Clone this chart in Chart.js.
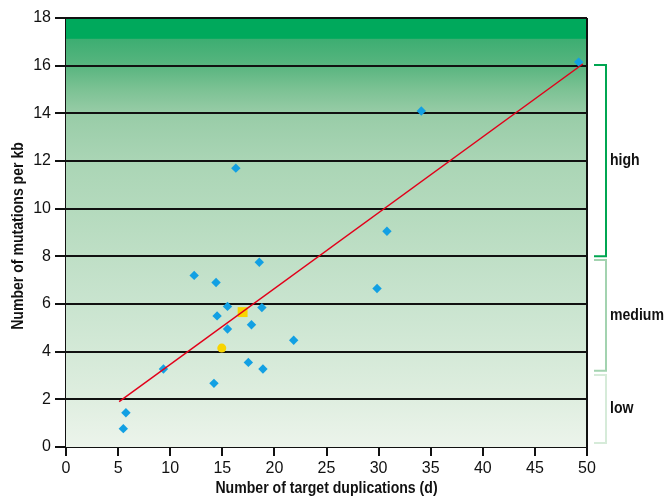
<!DOCTYPE html>
<html>
<head>
<meta charset="utf-8">
<script src="https://cdn.jsdelivr.net/npm/chart.js@4"></script>
<style>
  html, body { margin: 0; padding: 0; background: #fff; }
  #wrap { width: 666px; height: 497px; }
</style>
</head>
<body>
<div id="wrap"><canvas id="chart" width="666" height="497"></canvas></div>
<script>
// data
var duplications = [49.2, 34.1, 16.3, 30.8, 18.55, 12.3, 14.4, 29.85, 15.5, 18.8, 14.5, 17.8, 15.5, 21.85, 9.35, 17.5, 18.9, 14.2, 5.75, 5.5];
var mutations   = [16.15, 14.1, 11.7, 9.05, 7.75, 7.2, 6.9, 6.65, 5.9, 5.85, 5.5, 5.13, 4.95, 4.48, 3.27, 3.55, 3.27, 2.67, 1.44, 0.77];
var squarePoint = [{ x: 16.95, y: 5.66 }];
var circlePoint = [{ x: 14.95, y: 4.15 }];
var fitLine = [{ x: 5.1, y: 1.9 }, { x: 49.6, y: 16.07 }];
var yTicks = [0, 2, 4, 6, 8, 10, 12, 14, 16, 18];
var xTicks = [0, 5, 10, 15, 20, 25, 30, 35, 40, 45, 50];
// brackets on the right: [from, to, label, colour]
var brackets = [
  [8.0, 16.03, 'high', '#00a651'],
  [3.2, 7.85, 'medium', '#a3d3b0'],
  [0.17, 3.02, 'low', '#d6ebd9']
];

var sans = "'Liberation Sans', Arial, sans-serif";

var points = duplications.map(function (d, i) { return { x: d, y: mutations[i] }; });

// squeezed bold text, the original uses a condensed face
function narrowText(c, txt, x, y, align) {
  c.save();
  c.translate(x, y);
  c.scale(0.88, 1);
  c.textAlign = align;
  c.fillText(txt, 0, 0);
  c.restore();
}

var extras = {
  id: 'extras',
  beforeDatasetsDraw: function (chart) {
    var c = chart.ctx, a = chart.chartArea;
    var ys = chart.scales.y;
    c.save();
    var g = c.createLinearGradient(0, a.top, 0, a.bottom);
    var h = a.bottom - a.top;
    function stop(v, col) { g.addColorStop((ys.getPixelForValue(v) - a.top) / h, col); }
    stop(18, '#00a95c');
    stop(17.15, '#00a95c');
    stop(17.1, '#3dae72');
    stop(16, '#58b57f');
    stop(15, '#7cc294');
    stop(14, '#98cca7');
    stop(12, '#aad5b5');
    stop(10, '#b4dabd');
    stop(8, '#bfdfc6');
    stop(6, '#c9e4cf');
    stop(4, '#d4e9d7');
    stop(2, '#dfeee0');
    stop(0, '#ecf4eb');
    c.fillStyle = g;
    c.fillRect(a.left, a.top, a.right - a.left, a.bottom - a.top);
    // grid lines over the gradient
    c.strokeStyle = '#111';
    c.lineWidth = 2;
    yTicks.forEach(function (t) {
      if (t === 0) return;
      var py = Math.round(ys.getPixelForValue(t));
      c.beginPath();
      c.moveTo(a.left, py);
      c.lineTo(a.right, py);
      c.stroke();
    });
    c.restore();
  },
  afterDraw: function (chart) {
    var c = chart.ctx, a = chart.chartArea;
    var ys = chart.scales.y;
    c.save();
    // right border
    c.strokeStyle = '#111';
    c.lineWidth = 2;
    c.beginPath();
    c.moveTo(a.right, a.top);
    c.lineTo(a.right, a.bottom + 9);
    c.stroke();
    c.fillStyle = '#111';
    c.font = 'bold 16px ' + sans;
    c.textBaseline = 'middle';
    // brackets
    brackets.forEach(function (b) {
      var y1 = ys.getPixelForValue(b[1]), y0 = ys.getPixelForValue(b[0]);
      c.strokeStyle = b[3];
      c.lineWidth = 2;
      c.beginPath();
      c.moveTo(a.right + 7, y1);
      c.lineTo(a.right + 19, y1);
      c.lineTo(a.right + 19, y0);
      c.lineTo(a.right + 7, y0);
      c.stroke();
      narrowText(c, b[2], a.right + 23, (y0 + y1) / 2, 'left');
    });
    // axis titles
    narrowText(c, 'Number of target duplications (d)', (a.left + a.right) / 2, 489, 'center');
    c.translate(19, 236);
    c.rotate(-Math.PI / 2);
    narrowText(c, 'Number of mutations per kb', 0, 0, 'center');
    c.restore();
  }
};

new Chart(document.getElementById('chart'), {
  type: 'scatter',
  data: {
    datasets: [
      {
        label: 'fit',
        data: fitLine,
        showLine: true,
        borderColor: '#e2001a',
        borderWidth: 1.5,
        pointRadius: 0
      },
      {
        label: 'targets',
        data: points,
        pointStyle: 'rectRot',
        pointRadius: 4.7,
        backgroundColor: '#12a0e3',
        borderWidth: 0
      },
      {
        label: 'square',
        data: squarePoint,
        pointStyle: 'rect',
        pointRadius: 7,
        backgroundColor: '#f8d400',
        borderWidth: 0
      },
      {
        label: 'circle',
        data: circlePoint,
        pointStyle: 'circle',
        pointRadius: 4.5,
        backgroundColor: '#f8d400',
        borderWidth: 0
      }
    ]
  },
  options: {
    responsive: false,
    animation: false,
    layout: { padding: { left: 0, right: 79, top: 18, bottom: 0 } },
    plugins: { legend: { display: false }, tooltip: { enabled: false } },
    scales: {
      x: {
        type: 'linear',
        min: 0,
        max: 50,
        afterBuildTicks: function (s) { s.ticks = xTicks.map(function (v) { return { value: v }; }); },
        afterFit: function (s) { s.height = 50; },
        grid: { drawOnChartArea: false, drawTicks: true, tickLength: 9, color: '#111', lineWidth: 2 },
        border: { display: true, color: '#111', width: 2 },
        ticks: { color: '#111', font: { family: sans, size: 16 }, padding: 3, maxRotation: 0 }
      },
      y: {
        type: 'linear',
        min: 0,
        max: 18,
        afterBuildTicks: function (s) { s.ticks = yTicks.map(function (v) { return { value: v }; }); },
        afterFit: function (s) { s.width = 66; },
        grid: { drawOnChartArea: false, drawTicks: true, tickLength: 11, color: '#111', lineWidth: 2 },
        border: { display: true, color: '#111', width: 2 },
        ticks: { color: '#111', font: { family: sans, size: 16 }, padding: 4 }
      }
    }
  },
  plugins: [extras]
});
</script>
</body>
</html>
